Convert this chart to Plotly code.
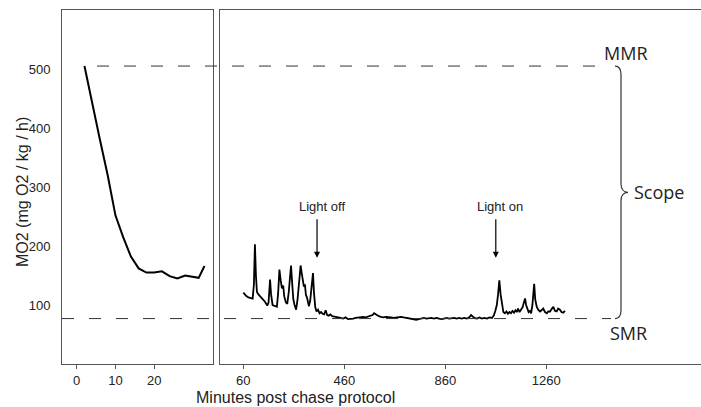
import plotly.graph_objects as go

# ---------------- data ----------------
early_min = [2, 4, 6, 8, 10, 12, 14, 16, 18, 20, 22, 24, 26, 28, 30, 31.5, 33]
early_mo2 = [505, 440, 380, 320, 252, 215, 182, 162, 155, 155, 157, 149, 145, 150, 147, 146, 166]

late_min = [
    60, 64, 72, 80, 90, 97, 102, 106, 110, 114,
    120, 128, 136, 145, 155, 160, 166, 170, 176, 185,
    193, 198, 203, 208, 213, 218, 222, 228, 234, 240,
    245, 249, 253, 258, 263, 269, 275, 281, 287, 291,
    296, 300, 304, 308, 312, 316, 320, 325, 330, 336,
    340, 345, 350, 356, 362, 368, 374, 380, 386, 392,
    398, 405, 412, 420, 428, 436, 445, 455, 465, 475,
    485, 495, 505, 515, 525, 535, 545, 555, 565, 572,
    578, 584, 590, 597, 605, 615, 625, 635, 645, 655,
    665, 675, 685, 695, 705, 715, 725, 735, 745, 755,
    765, 775, 785, 795, 805, 815, 825, 835, 845, 855,
    865, 875, 885, 895, 905, 915, 925, 935, 945, 955,
    962, 968, 975, 985, 995, 1005, 1015, 1025, 1035, 1045,
    1052, 1058, 1064, 1069, 1074, 1079, 1084, 1090, 1096, 1102,
    1108, 1114, 1120, 1126, 1132, 1138, 1143, 1148, 1154, 1160,
    1166, 1171, 1176, 1180, 1185, 1190, 1195, 1200, 1205, 1209,
    1212, 1216, 1222, 1228, 1235, 1241, 1248, 1255, 1262, 1268,
    1275, 1281, 1288, 1294, 1301, 1307, 1314, 1320, 1327, 1334,
]
late_mo2 = [
    121, 119, 115, 113, 112, 111, 135, 203, 150, 122,
    118, 114, 111, 106, 99, 104, 143, 118, 100, 98,
    97, 120, 160, 142, 128, 133, 115, 105, 102, 122,
    150, 167, 140, 110, 100, 92, 110, 140, 167, 155,
    143, 131, 135, 117, 113, 105, 98, 108, 135, 154,
    120, 96, 89, 92, 86, 88, 85, 84, 91, 83,
    82, 84, 81, 80, 80, 79, 78, 77, 79, 76,
    76, 77, 78, 79, 80, 80, 79, 80, 81, 83,
    86, 84, 82, 81, 80, 79, 80, 80, 79, 78,
    79, 80, 80, 79, 78, 77, 76, 76, 75, 76,
    77, 78, 77, 78, 78, 77, 78, 77, 76, 77,
    78, 77, 78, 78, 77, 78, 77, 78, 77, 79,
    83, 80, 78, 77, 79, 77, 78, 77, 79, 78,
    82, 90, 100, 118, 142, 118, 100, 88, 86, 89,
    85, 88, 86, 90, 87, 91, 88, 94, 88, 92,
    96, 104, 111, 100, 92, 88, 90, 86, 100, 125,
    136, 110, 97, 92, 89, 91, 94, 88, 86, 89,
    89, 93, 97, 90, 89, 94, 92, 88, 87, 90,
]
assert len(late_min) == len(late_mo2)

MMR = 505
SMR = 77
left_ticks = [0, 10, 20]
right_ticks = [60, 460, 860, 1260]
y_ticks = [100, 200, 300, 400, 500]

# ---------------- figure ----------------
W, H = 701, 407
T, B = 10, 43
PH = H - T - B


def px(x):
    return x / W


def py(y):
    return (H - B - y) / PH


AX = "#555555"
TXT = "#222222"
tick_font = dict(family="Liberation Sans, Arial, sans-serif", size=13, color=TXT)

fig = go.Figure()
fig.add_trace(go.Scatter(x=early_min, y=early_mo2, mode="lines",
                         line=dict(color="black", width=2), xaxis="x", yaxis="y",
                         showlegend=False))
fig.add_trace(go.Scatter(x=late_min, y=late_mo2, mode="lines",
                         line=dict(color="black", width=1.8), xaxis="x2", yaxis="y2",
                         showlegend=False))

fig.update_layout(
    width=W, height=H,
    margin=dict(l=0, r=0, t=T, b=B),
    paper_bgcolor="white", plot_bgcolor="white",
    xaxis=dict(domain=[px(62), px(213)], range=[-3.8, 35.2], tickvals=left_ticks,
               showgrid=False, zeroline=False, showline=True, linecolor=AX, mirror=True,
               ticks="outside", ticklen=4, tickcolor=AX, tickfont=tick_font),
    yaxis=dict(range=[0, 600], tickvals=y_ticks, showgrid=False, zeroline=False,
               showline=True, linecolor=AX, mirror=True,
               ticks="outside", ticklen=8, tickcolor="rgba(0,0,0,0)", tickfont=tick_font),
    xaxis2=dict(domain=[px(220), 1.0], range=[-32.3, 1872.7], tickvals=right_ticks,
                anchor="y2", showgrid=False, zeroline=False, showline=True, linecolor=AX,
                mirror=True, ticks="outside", ticklen=4, tickcolor=AX, tickfont=tick_font),
    yaxis2=dict(range=[0, 600], anchor="x2", showgrid=False, zeroline=False,
                showline=True, linecolor=AX, mirror=False, showticklabels=False, ticks=""),
)

# dashed reference lines
dash = "12px,15px"
fig.add_shape(type="line", xref="paper", yref="y", x0=px(97), x1=px(597), y0=MMR, y1=MMR,
              line=dict(color="#333333", width=1, dash=dash))
fig.add_shape(type="line", xref="paper", yref="y", x0=px(62), x1=px(611), y0=SMR, y1=SMR,
              line=dict(color="#333333", width=1, dash=dash))

# curly brace spanning SMR..MMR
mid = (MMR + SMR) / 2
xa, xb, xt = px(615), px(621), px(628)
k = 14
path = (f"M {xa},{MMR} C {px(619)},{MMR} {xb},{MMR-6} {xb},{MMR-k} "
        f"L {xb},{mid+k} C {xb},{mid+5} {px(624)},{mid} {xt},{mid} "
        f"C {px(624)},{mid} {xb},{mid-5} {xb},{mid-k} "
        f"L {xb},{SMR+k} C {xb},{SMR+6} {px(619)},{SMR} {xa},{SMR}")
fig.add_shape(type="path", xref="paper", yref="y", path=path,
              line=dict(color="#333333", width=1.2))

label_font = dict(family="Open Sans, sans-serif", size=18, color=TXT)
fig.add_annotation(xref="paper", yref="y", x=px(626), y=MMR, yshift=13, text="MMR",
                   showarrow=False, font=label_font, xanchor="center", yanchor="middle")
fig.add_annotation(xref="paper", yref="y", x=px(628), y=SMR, yshift=-14, text="SMR",
                   showarrow=False, font=label_font, xanchor="center", yanchor="middle")
fig.add_annotation(xref="paper", yref="y", x=px(632), y=mid, text="Scope",
                   showarrow=False, font=label_font, xanchor="left", yanchor="middle")

# event arrows
ev_font = dict(family="Liberation Sans, Arial, sans-serif", size=13, color=TXT)
for xv, tx, label in [(352, 370, "Light off"), (1060, 1077, "Light on")]:
    fig.add_annotation(xref="x2", yref="y2", x=xv, y=180, ax=0, ay=-40, text="",
                       showarrow=True, arrowhead=2, arrowsize=1, arrowwidth=1.2,
                       arrowcolor="black")
    fig.add_annotation(xref="x2", yref="y2", x=tx, y=180, yshift=51, text=label,
                       showarrow=False, font=ev_font, xanchor="center", yanchor="middle")

# axis titles
fig.add_annotation(xref="paper", yref="paper", x=px(295.5), y=py(398),
                   text="Minutes post chase protocol", showarrow=False,
                   font=dict(family="Liberation Sans, Arial, sans-serif", size=16, color=TXT),
                   xanchor="center", yanchor="middle")
fig.add_annotation(xref="paper", yref="paper", x=px(22), y=py(192),
                   text="MO2 (mg O2 / kg / h)", showarrow=False, textangle=-90,
                   font=dict(family="Liberation Sans, Arial, sans-serif", size=16, color=TXT),
                   xanchor="center", yanchor="middle")

fig.write_html("out.html")
